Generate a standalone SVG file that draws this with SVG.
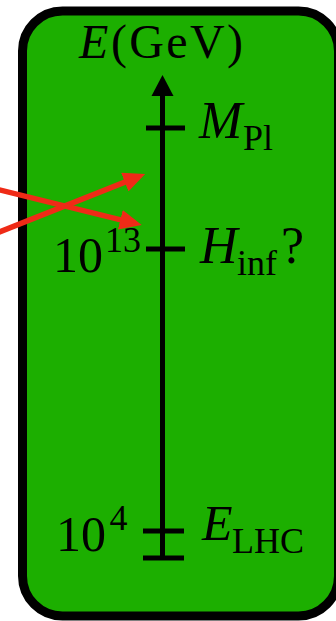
<svg xmlns="http://www.w3.org/2000/svg" width="336" height="621" viewBox="0 0 336 621">
<style>
.t{font-family:"Liberation Serif","Times New Roman",serif;fill:#000}
.i{font-style:italic}
.tick{stroke:#000;stroke-width:5;fill:none}
.red{stroke:#ef2b17;stroke-width:5.5;fill:none;marker-end:url(#rh)}
</style>
<defs>
<marker id="rh" markerUnits="userSpaceOnUse" viewBox="0 0 22 20" markerWidth="22" markerHeight="20" refX="15" refY="10" orient="auto">
<path d="M0,0 L22,10 L0,20 z" fill="#ef2b17"/>
</marker>
</defs>
<g id="panel">
<rect x="22.5" y="11" width="316" height="605" rx="40" ry="40" fill="#1caf00" stroke="#000" stroke-width="9"/>
</g>
<g id="axis">
<line x1="162.5" y1="93" x2="162.5" y2="558" stroke="#000" stroke-width="5"/>
<path d="M162.5,75 L173.5,96 L151.5,96 z" fill="#000"/>
<text class="t" x="79" y="58" font-size="48"><tspan class="i">E</tspan><tspan x="111" textLength="132" lengthAdjust="spacing">(GeV)</tspan></text>
</g>
<g id="mpl">
<line class="tick" x1="146" y1="128" x2="185" y2="128"/>
<text class="t" y="138"><tspan class="i" x="199" font-size="52">M</tspan><tspan x="243" y="150" font-size="36">Pl</tspan></text>
</g>
<g id="hinf">
<line class="tick" x1="146" y1="249" x2="185" y2="249"/>
<text class="t" y="263"><tspan class="i" x="200" font-size="52">H</tspan><tspan x="237" y="275" font-size="36">inf</tspan><tspan x="281" y="263" font-size="52">?</tspan></text>
<text class="t" y="272"><tspan x="53" font-size="50">10</tspan><tspan x="105" y="252" font-size="36">13</tspan></text>
</g>
<g id="elhc">
<line class="tick" x1="143" y1="531" x2="184" y2="531"/>
<line class="tick" x1="143" y1="558" x2="184" y2="558"/>
<text class="t" y="540"><tspan class="i" x="202" font-size="50">E</tspan><tspan x="232" y="553" font-size="36">LHC</tspan></text>
<text class="t" y="551"><tspan x="56" font-size="50">10</tspan><tspan x="109.5" y="529.5" font-size="36">4</tspan></text>
</g>
<g id="connectors">
<line class="red" x1="-10" y1="235.7" x2="138.7" y2="176.6"/>
<line class="red" x1="-10" y1="187.5" x2="134.9" y2="223.3"/>
</g>
</svg>
